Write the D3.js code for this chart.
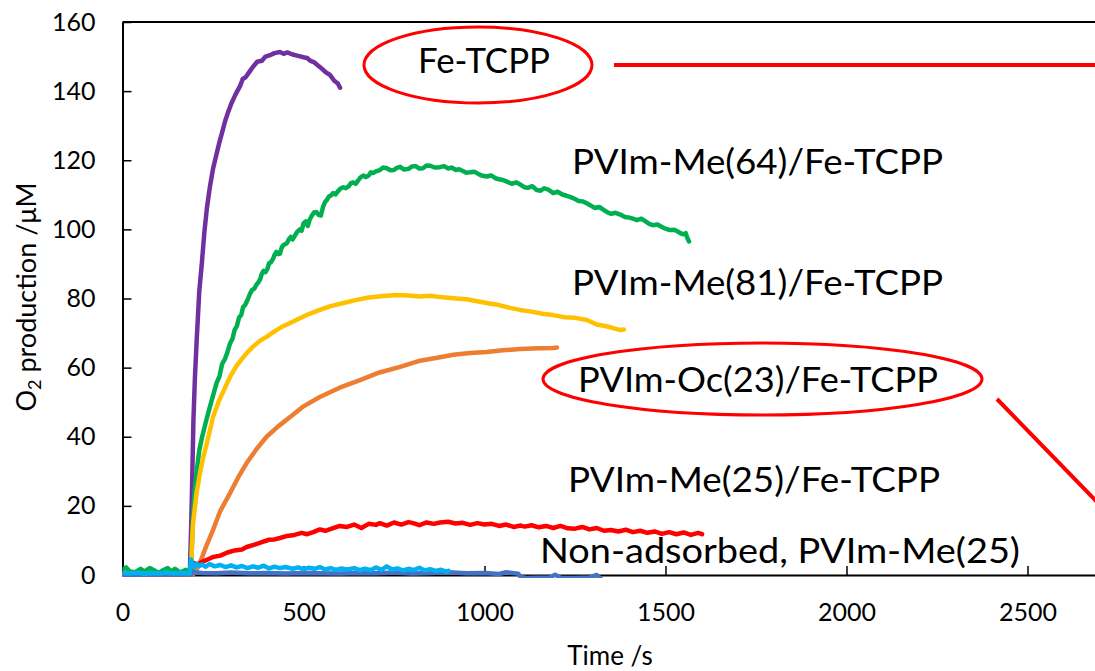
<!DOCTYPE html>
<html>
<head>
<meta charset="utf-8">
<script src="https://cdn.jsdelivr.net/npm/d3@7"></script>
<style>
  html, body { margin: 0; padding: 0; background: #fff; }
  svg { display: block; font-family: Lato, "Open Sans", sans-serif; }
</style>
</head>
<body>
<svg id="chart" width="1095" height="671"></svg>
<script>
// O2 evolution traces (time in s, O2 in µM)
const feTcppT = [0, 40, 80, 120, 160, 186, 190, 193, 196, 200, 205, 212, 219, 226, 233, 241, 250, 258, 266, 275, 284, 292, 301, 312, 325, 332, 340, 350, 360, 372, 385, 395, 410, 420, 435, 445, 455, 470, 485, 500, 510, 518, 530, 545, 560, 573, 585, 595, 601];
const feTcppV = [0.3, 0.2, 0.4, 0.3, 0.3, 0.5, 15, 30, 45, 57, 68, 82, 90, 99, 106, 112, 117.5, 121, 124.5, 128, 131.5, 134, 136.5, 139, 141.5, 143.5, 144, 145.5, 147, 148.5, 148.8, 150, 150.5, 151, 151.3, 150.8, 151.2, 150.6, 150.2, 149.8, 149.6, 148.8, 148.3, 147, 145.6, 144.7, 143, 142.2, 141];

const me64T = [0, 10, 20, 35, 50, 60, 75, 90, 100, 110, 125, 135, 145, 160, 175, 186, 190, 195, 200, 205, 212, 220, 232, 245, 260, 268, 275, 283, 290, 297, 304, 310, 316, 322, 328, 333, 339, 345, 352, 358, 364, 370, 375, 380, 385, 390, 395, 400, 405, 410, 416, 420, 425, 430, 435, 440, 445, 454, 460, 465, 470, 475, 482, 490, 495, 500, 506, 512, 517, 522, 529, 536, 542, 548, 554, 560, 565, 570, 576, 582, 588, 595, 602, 610, 617, 625, 631, 637, 644, 650, 657, 665, 672, 680, 686, 692, 700, 710, 720, 730, 740, 750, 758, 767, 778, 790, 800, 810, 820, 830, 840, 850, 862, 877, 888, 900, 910, 920, 930, 940, 950, 960, 972, 985, 995, 1006, 1018, 1030, 1040, 1051, 1062, 1075, 1088, 1100, 1110, 1120, 1132, 1144, 1155, 1165, 1178, 1190, 1202, 1215, 1225, 1236, 1248, 1260, 1272, 1285, 1295, 1305, 1317, 1328, 1340, 1350, 1362, 1375, 1388, 1400, 1410, 1421, 1433, 1445, 1455, 1465, 1478, 1490, 1500, 1512, 1524, 1535, 1543, 1550, 1556, 1560, 1565];
const me64V = [1.5, 2.2, 1.0, 0.8, 1.8, 1.0, 2.0, 1.2, 0.6, 1.3, 2.0, 1.0, 1.8, 0.7, 1.5, 0.8, 3, 18, 25, 30, 36, 40, 45, 50, 55.6, 57.5, 61, 62.5, 64.5, 67, 68.4, 71, 72, 74.5, 75.2, 77.5, 78.2, 79.5, 81.3, 82.5, 82.8, 84, 84.6, 85.5, 87.2, 88, 87.6, 88.5, 90.2, 90.5, 91.5, 92.6, 93.5, 92.8, 93, 94.8, 95.5, 96, 97.2, 97.8, 97.1, 98, 99.2, 100, 99.6, 101.8, 102.3, 101, 102.8, 103.8, 104.9, 105, 104.2, 104, 106.5, 108, 108.6, 109.5, 109.8, 110.5, 110.1, 111, 111.8, 112.2, 111.9, 112.5, 113.4, 113.6, 113.2, 114, 115, 115.6, 115.1, 115.6, 116.5, 116.3, 116.8, 117.1, 117.9, 117.7, 117.1, 117.2, 117.8, 118.1, 117.3, 117.5, 118.2, 118.3, 117.6, 117.7, 118.5, 118.4, 117.9, 118, 118.3, 117.6, 117.9, 117.2, 117.4, 116.9, 116.4, 116.5, 116.7, 115.9, 115.5, 115.3, 115.6, 114.8, 114.5, 114.3, 113.8, 113.2, 113.6, 112.9, 112.2, 112, 112.5, 111.4, 111.2, 111.9, 111.4, 110.5, 110.9, 110.1, 109.8, 109.4, 108.9, 108.2, 108.1, 107.4, 106.8, 106.2, 106.5, 105.7, 104.9, 104.5, 104.8, 104.3, 103.6, 103.4, 103.1, 102.7, 103.1, 102.3, 101.6, 101.2, 101.4, 100.7, 100.2, 99.8, 99.9, 99.3, 98.8, 98.6, 98.9, 97.6, 96.5];

const me81T = [0, 100, 188, 190, 193, 195, 205, 215, 223, 235, 250, 265, 280, 297, 315, 330, 343, 360, 380, 398, 420, 440, 463, 490, 515, 545, 575, 610, 647, 680, 720, 757, 790, 822, 850, 877, 914, 950, 980, 1006, 1040, 1070, 1098, 1130, 1160, 1190, 1220, 1250, 1283, 1310, 1340, 1360, 1374, 1385];
const me81V = [0.3, 0.3, 0.3, 3, 12, 15, 24, 30, 34, 39, 45.7, 50, 53.5, 57.3, 60.5, 62.5, 64.2, 66, 67.8, 68.9, 70.5, 71.8, 72.9, 74.3, 75.5, 76.7, 77.8, 78.7, 79.6, 80.3, 80.7, 81, 80.9, 80.6, 80.8, 80.4, 80.1, 79.8, 79.2, 78.7, 78.1, 77.3, 76.7, 76.2, 75.6, 75.2, 74.6, 74.4, 73.8, 72.5, 71.9, 71.3, 70.9, 71];

const oc23T = [0, 195, 205, 214, 230, 250, 270, 297, 320, 343, 370, 398, 430, 463, 500, 545, 600, 656, 710, 767, 822, 877, 914, 960, 1006, 1050, 1098, 1150, 1190, 1200];
const oc23V = [0.2, 0.2, 1.5, 3.5, 8, 13, 18.5, 23.7, 28.3, 32.4, 36.4, 40, 43, 45.7, 48.8, 51.5, 54.2, 56.4, 58.6, 60.2, 62, 63, 63.7, 64.2, 64.5, 65, 65.4, 65.6, 65.7, 65.8];

const me25T = [0, 188, 192, 195, 205, 220, 235, 250, 270, 290, 310, 330, 343, 365, 385, 405, 420, 435, 455, 475, 495, 510, 527, 545, 560, 580, 600, 620, 640, 660, 680, 700, 711, 730, 750, 770, 790, 803, 820, 840, 860, 877, 900, 920, 940, 960, 980, 1000, 1020, 1040, 1060, 1080, 1100, 1111, 1130, 1150, 1170, 1190, 1210, 1230, 1250, 1270, 1290, 1310, 1330, 1349, 1370, 1390, 1410, 1430, 1450, 1470, 1490, 1510, 1530, 1550, 1570, 1590, 1601];
const me25V = [0.2, 0.3, 2.5, 3.5, 3, 3.8, 4.5, 5.2, 5.6, 6.5, 7.1, 7.4, 8.1, 8.8, 9.5, 10.2, 10.3, 10.7, 11.3, 11.6, 12.2, 11.8, 12.4, 13.2, 12.8, 13.5, 14.2, 13.9, 14.6, 13.6, 14.8, 14.5, 15, 14.3, 15.2, 14.6, 15.3, 15, 14.4, 15.2, 14.8, 15.2, 15.4, 14.9, 15.1, 14.5, 15, 14.6, 14.8, 14.2, 14.6, 13.9, 14.3, 14, 14.4, 13.8, 14.2, 13.6, 14.2, 13.5, 13.4, 13.9, 13.2, 13.6, 12.8, 13, 12.6, 13.1, 12.4, 12.8, 12.2, 12.6, 11.9, 12.4, 11.8, 12.3, 11.6, 12.2, 11.8];

const nonAdsT = [0, 20, 40, 60, 80, 100, 120, 140, 160, 186, 189, 193, 198, 205, 212, 220, 230, 240, 255, 270, 285, 300, 315, 330, 345, 360, 375, 390, 405, 420, 435, 450, 470, 485, 500, 515, 530, 545, 560, 575, 590, 605, 620, 640, 655, 670, 685, 700, 715, 730, 745, 760, 775, 790, 805, 820, 835, 850, 865, 880, 895, 901];
const nonAdsV = [0.6, 0.4, 0.7, 0.3, 0.6, 0.4, 0.7, 0.4, 0.6, 0.5, 4.5, 3.2, 2.2, 3.3, 2.6, 3.0, 2.4, 3.2, 2.5, 2.9, 2.3, 2.8, 2.2, 2.6, 2.0, 2.5, 2.1, 2.7, 1.9, 2.4, 2.0, 2.3, 1.8, 2.2, 1.7, 2.1, 1.8, 2.3, 1.6, 2.0, 1.5, 1.9, 1.6, 2.0, 1.4, 1.8, 1.4, 2.2, 1.5, 2.5, 1.6, 1.9, 1.3, 1.8, 1.4, 2.1, 1.3, 1.7, 1.2, 1.5, 1.0, 1.2];

const polyT = [0, 190, 195, 220, 260, 300, 350, 400, 450, 500, 550, 600, 650, 700, 750, 800, 850, 900, 950, 1000, 1040, 1060, 1093, 1100, 1120, 1150, 1180, 1195, 1210, 1250, 1290, 1310, 1320];
const polyV = [0.1, 0.2, 0.8, 0.6, 0.5, 0.7, 0.5, 0.6, 0.4, 0.6, 0.5, 0.4, 0.6, 0.5, 0.7, 0.4, 0.6, 0.8, 0.5, 0.6, 0.3, 0.8, 0.4, -0.6, -0.9, -0.8, -0.7, 0.1, -0.8, -0.9, -0.7, 0.0, -0.9];

const xTicks = [0, 500, 1000, 1500, 2000, 2500];
const yTicks = [0, 20, 40, 60, 80, 100, 120, 140, 160];

// series in drawing order (later ones on top)
const series = [
  { t: feTcppT, v: feTcppV, color: "#7030A0" },
  { t: me64T, v: me64V, color: "#00B050" },
  { t: me81T, v: me81V, color: "#FFC000" },
  { t: oc23T, v: oc23V, color: "#ED7D31" },
  { t: me25T, v: me25V, color: "#FF0000" },
  { t: polyT, v: polyV, color: "#4472C4" },
  { t: nonAdsT, v: nonAdsV, color: "#00B0F0" }
];

const svg = d3.select("#chart");
const x = d3.scaleLinear().domain([0, 3000]).range([122.5, 1208.5]);
const y = d3.scaleLinear().domain([0, 160]).range([575, 22]);

svg.append("defs").append("clipPath").attr("id", "plotClip")
  .append("rect").attr("x", x(0)).attr("y", y(160)).attr("width", 1100).attr("height", y(0) - y(160) + 3);

// frame top edge
svg.append("line")
  .attr("x1", x(0)).attr("x2", x(3000)).attr("y1", y(160)).attr("y2", y(160))
  .attr("stroke", "#000").attr("stroke-width", 2);

// axes with inward ticks
const yAxis = d3.axisLeft(y).tickValues(yTicks).tickSizeInner(-9).tickSizeOuter(0).tickPadding(27);
const gy = svg.append("g").attr("transform", `translate(${x(0)},0)`).call(yAxis);
const xAxis = d3.axisBottom(x).tickValues(xTicks).tickFormat(d3.format("d"))
  .tickSizeInner(-9).tickSizeOuter(0).tickPadding(28);
const gx = svg.append("g").attr("transform", `translate(0,${y(0)})`).call(xAxis);
[gx, gy].forEach(g => {
  g.select(".domain").attr("stroke", "#000").attr("stroke-width", 2);
  g.selectAll(".tick line").attr("stroke", "#000").attr("stroke-width", 1.5);
  g.selectAll(".tick text").attr("font-family", "Lato, sans-serif").attr("font-size", 25).attr("fill", "#000");
});

// traces
const line = d3.line().x(d => x(d[0])).y(d => y(d[1]));
svg.append("g").attr("clip-path", "url(#plotClip)")
  .selectAll("path").data(series).join("path")
  .attr("d", s => line(s.t.map((t, i) => [t, s.v[i]])))
  .attr("fill", "none")
  .attr("stroke", s => s.color)
  .attr("stroke-width", 4.5)
  .attr("stroke-linejoin", "round")
  .attr("stroke-linecap", "round");

// axis titles
svg.append("text")
  .attr("x", 610).attr("y", 665)
  .attr("text-anchor", "middle").attr("font-size", 26).attr("fill", "#000")
  .text("Time /s");
const yt = svg.append("text")
  .attr("transform", "translate(36,297) rotate(-90)")
  .attr("text-anchor", "middle").attr("font-size", 27).attr("fill", "#000");
yt.append("tspan").text("O");
yt.append("tspan").attr("font-size", 18).attr("dy", 5).text("2");
yt.append("tspan").attr("dy", -5).text(" production /μM");

// series labels
const labels = [
  { text: "Fe-TCPP", x0: 418, x1: 550, base: 73 },
  { text: "PVIm-Me(64)/Fe-TCPP", x0: 572, x1: 943, base: 174 },
  { text: "PVIm-Me(81)/Fe-TCPP", x0: 572, x1: 943, base: 295 },
  { text: "PVIm-Oc(23)/Fe-TCPP", x0: 578, x1: 938, base: 392 },
  { text: "PVIm-Me(25)/Fe-TCPP", x0: 568, x1: 940, base: 492 },
  { text: "Non-adsorbed, PVIm-Me(25)", x0: 540, x1: 1020, base: 563 }
];
svg.append("g").selectAll("text").data(labels).join("text")
  .attr("x", d => d.x0).attr("y", d => d.base)
  .attr("font-size", 35).attr("fill", "#000")
  .attr("textLength", d => d.x1 - d.x0).attr("lengthAdjust", "spacingAndGlyphs")
  .text(d => d.text);

// highlight ellipses and pointer lines
const red = "#FF0000";
svg.append("ellipse").attr("cx", 478).attr("cy", 65).attr("rx", 114).attr("ry", 38)
  .attr("fill", "none").attr("stroke", red).attr("stroke-width", 3);
svg.append("ellipse").attr("cx", 762.5).attr("cy", 379).attr("rx", 219.5).attr("ry", 36)
  .attr("fill", "none").attr("stroke", red).attr("stroke-width", 3);
svg.append("line").attr("x1", 614).attr("x2", 1100).attr("y1", 65).attr("y2", 65)
  .attr("stroke", red).attr("stroke-width", 4);
svg.append("line").attr("x1", 997).attr("y1", 399).attr("x2", 1100).attr("y2", 505)
  .attr("stroke", red).attr("stroke-width", 4);
</script>
</body>
</html>
